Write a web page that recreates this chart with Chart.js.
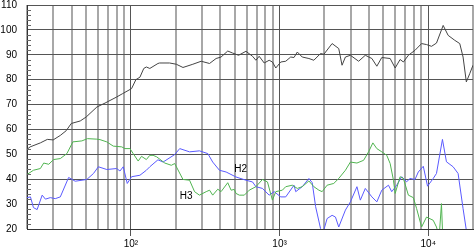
<!DOCTYPE html>
<html>
<head>
<meta charset="utf-8">
<script src="https://cdn.jsdelivr.net/npm/chart.js@4"></script>
<style>
  body { margin: 0; background: #fff; }
</style>
</head>
<body>
<canvas id="grafico" width="475" height="248"></canvas>
<script>
// frecuencias (Hz) y niveles (dB)
const respFreq = [20, 21, 24.6, 27.4, 30, 33.5, 36.7, 39.7, 45.6, 50, 59, 67, 80, 88, 101, 108, 115, 122, 127, 134,
  152, 156, 182, 202, 224, 261, 297, 338, 374, 404, 448, 483, 530, 594, 658, 693, 729, 788, 851, 895,
  943, 1019, 1100, 1188, 1250, 1316, 1420, 1575, 1700, 1886, 1985, 2256, 2500, 2631, 2772, 2995, 3402, 3772, 4176, 4510,
  4870, 5543, 5990, 6467, 6806, 7350, 8147, 9020, 9740, 10520, 11360, 12600, 13610, 15090, 16290, 17150, 18040, 19010, 20000];
const respDb = [52, 53, 54.6, 56, 55.8, 57.6, 59.5, 62.4, 63.4, 65, 69, 70.6, 73, 74.4, 76.4, 80, 81, 84.5, 85.1, 84.5,
  86.5, 86.7, 86.7, 86.2, 84.9, 86.2, 87.4, 86.5, 88.5, 89.1, 91.5, 90.7, 89.8, 91.4, 89.4, 87.8, 89.4, 86.7, 87.8, 87.1,
  84.7, 87.1, 87.4, 89.1, 88.9, 91.1, 89.1, 88.5, 87.8, 90.5, 90.2, 94.5, 92.5, 85.8, 89.1, 89.8, 87.4, 89.8, 88.5, 85.4,
  88.9, 88.5, 84.7, 88.1, 87.1, 89.8, 91.8, 94.5, 94.1, 93.4, 94.7, 101.8, 97.8, 95.8, 94.5, 89.1, 79.1, 82.4, 85.8];

const h3Freq = [20, 22.1, 24.6, 25.9, 28, 30.2, 33.5, 37.1, 40.7, 46.8, 51, 59, 62, 68.8, 76.1, 86.7, 91.2, 98.5, 103.6, 111.9,
  117.9, 127, 134, 141, 149, 169, 187, 197, 224, 248, 268, 289, 321, 338, 355, 384, 404, 448, 472, 496,
  509, 536, 579, 625, 693, 767, 829, 895, 943, 1044, 1100, 1218, 1316, 1420, 1575, 1701, 1838, 1933, 2088, 2314,
  2500, 2772, 2995, 3314, 3674, 3968, 4241, 4510, 4870, 5261, 5543, 5834, 5990, 6467, 6806, 7350, 7937, 8351, 9020, 9740,
  10800, 11360, 11850, 12270, 12600];
const h3Db = [41.9, 43.6, 44.3, 46.5, 46, 47.9, 48.3, 50.3, 55, 55.4, 56.3, 56.1, 55.9, 55, 53.3, 53, 52.3, 52.3, 50.3, 47.3,
  49.2, 47.9, 49.6, 49.6, 49, 46.5, 45.6, 46.3, 39.9, 39.6, 35, 33.6, 35, 35.6, 33.6, 36, 35, 38.6, 35.6, 35.9,
  34.3, 33.6, 33.6, 35.6, 37, 39.9, 38.9, 31.6, 35, 35.6, 37, 37.6, 36.3, 37, 39.3, 37, 35.6, 35, 37.6, 38.3,
  40.3, 43.6, 46.9, 46.5, 47.6, 51, 54.6, 52.3, 51, 49.6, 46.3, 39.6, 34.3, 41, 40.3, 33.6, 32.6, 28.2, 20.8, 24.8,
  23.5, 20.8, 17, 30.2, 12];

const h2Freq = [20, 21.1, 22.1, 23.4, 25.3, 26.6, 28.7, 31, 33.5, 38.1, 42.2, 50.5, 56, 60.4, 68.8, 80.2, 84.4, 88.8, 94.5, 101,
  115, 127, 134, 152, 164.5, 197, 213, 248, 289, 329, 355, 394, 437, 509, 594, 658, 693, 767, 851, 919,
  1019, 1100, 1250, 1284, 1420, 1575, 1658, 1747, 1886, 1950, 2088, 2256, 2376, 2500, 2772, 2995, 3314, 3493, 3772, 4176,
  4510, 4870, 5400, 5680, 6138, 6630, 7160, 7543, 8147, 8573, 9260, 9890, 10800, 11360, 12460, 13260, 14700, 15880, 17150, 18040,
  18500];
const h2Db = [32.6, 32.9, 28.6, 27.8, 33.6, 32, 32.6, 32.2, 32.9, 40.7, 39.2, 39.9, 42.3, 45, 43.9, 44.3, 43.3, 45, 38.3, 41,
  41.6, 43.6, 45, 47.8, 46.9, 49.9, 52.3, 51, 51.4, 50.3, 46.9, 43.6, 42.9, 40.9, 39.6, 38.9, 37, 36.3, 33.6, 35,
  32.9, 32.9, 37.6, 35, 37, 40.3, 38.6, 29, 20.2, 18, 24.2, 25.5, 24.8, 20.8, 27.6, 30.9, 37, 31.6, 36.3, 32.9,
  30.9, 35.6, 37.6, 35, 37.6, 41, 39, 40.3, 39.9, 42.9, 45.2, 37.2, 40.3, 42.3, 56, 47, 45, 42.3, 28.2, 19.5,
  12];

// marcas del eje x y etiquetas de las curvas
const xTicks = [20, 30, 40, 50, 60, 70, 80, 90, 100, 200, 300, 400, 500, 600, 700, 800, 900,
  1000, 2000, 3000, 4000, 5000, 6000, 7000, 8000, 9000, 10000, 20000];
const xLabels = { 100: "10²", 1000: "10³", 10000: "10⁴" };
const curveNames = ["H2", "H3"];
const curveNameFreq = [496, 213];
const curveNameDb = [42.8, 32.2];

function puntos(fs, ds) {
  return fs.map(function (f, i) { return { x: f, y: ds[i] }; });
}

function esDecada(v) {
  return v === 100 || v === 1000 || v === 10000;
}

// dibuja las marcas menores del eje y y los nombres H2 / H3
const extras = {
  id: "extras",
  afterDraw: function (chart) {
    const c = chart.ctx;
    const xs = chart.scales.x;
    const ys = chart.scales.y;
    c.save();
    c.strokeStyle = "#666";
    c.lineWidth = 1;
    ys.ticks.forEach(function (t) {
      if (t.value % 10 !== 0) {
        const py = Math.round(ys.getPixelForValue(t.value)) + 0.5;
        c.beginPath();
        c.moveTo(xs.left, py);
        c.lineTo(xs.left + 4, py);
        c.stroke();
      }
    });
    c.fillStyle = "#000";
    c.font = "10px 'Liberation Sans', Arial, sans-serif";
    c.textAlign = "left";
    c.textBaseline = "alphabetic";
    curveNames.forEach(function (n, i) {
      c.fillText(n, xs.getPixelForValue(curveNameFreq[i]), ys.getPixelForValue(curveNameDb[i]));
    });
    c.restore();
  }
};

const ctx = document.getElementById("grafico").getContext("2d");
const grafico = new Chart(ctx, {
  type: "line",
  data: {
    datasets: [
      { label: "Respuesta", data: puntos(respFreq, respDb), borderColor: "#444", borderWidth: 1, pointRadius: 0, tension: 0 },
      { label: "H3", data: puntos(h3Freq, h3Db), borderColor: "rgb(80,180,80)", borderWidth: 1, pointRadius: 0, tension: 0 },
      { label: "H2", data: puntos(h2Freq, h2Db), borderColor: "rgb(90,90,255)", borderWidth: 1, pointRadius: 0, tension: 0 }
    ]
  },
  options: {
    responsive: false,
    animation: false,
    layout: { padding: 0 },
    plugins: {
      legend: { display: false },
      tooltip: { enabled: false }
    },
    scales: {
      x: {
        type: "logarithmic",
        min: 20,
        max: 20000,
        afterBuildTicks: function (scale) {
          scale.ticks = xTicks.map(function (v) { return { value: v }; });
        },
        afterFit: function (scale) { scale.height = 19; },
        grid: {
          color: function (c) { return c.tick && esDecada(c.tick.value) ? "#555" : "#a8a8a8"; },
          lineWidth: function (c) { return c.tick && esDecada(c.tick.value) ? 1 : 2; },
          tickColor: function (c) { return c.tick && esDecada(c.tick.value) ? "#555" : "rgba(0,0,0,0)"; },
          tickLength: 7
        },
        border: { color: "#333", width: 1 },
        ticks: {
          autoSkip: false,
          maxRotation: 0,
          padding: 2,
          color: "#000",
          font: { family: "'Liberation Sans', Arial, sans-serif", size: 10 },
          callback: function (v) { return xLabels[v] || ""; }
        }
      },
      y: {
        min: 20,
        max: 110,
        afterFit: function (scale) {
          scale.width = 27;
          scale.paddingTop = 5;
          scale.paddingBottom = 0;
        },
        grid: {
          color: function (c) { return c.tick && c.tick.value % 10 === 0 ? "#555" : "rgba(0,0,0,0)"; },
          drawTicks: false
        },
        border: { color: "#333", width: 1 },
        ticks: {
          stepSize: 2,
          autoSkip: false,
          maxTicksLimit: 100,
          padding: 10,
          color: "#000",
          font: { family: "'Liberation Sans', Arial, sans-serif", size: 10 },
          callback: function (v) { return v % 10 === 0 ? v : ""; }
        }
      }
    }
  },
  plugins: [extras]
});
</script>
</body>
</html>
